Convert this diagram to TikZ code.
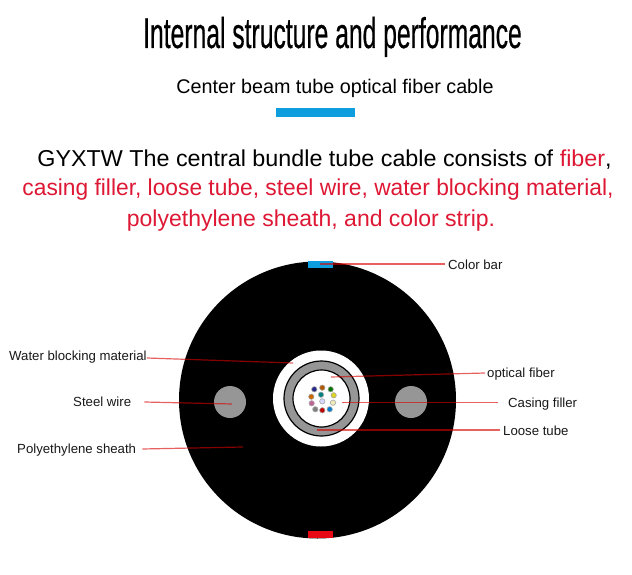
\documentclass[tikz,border=0pt]{standalone}
\usepackage{fontspec}
\setmainfont{Liberation Sans}
\newfontfamily\titlefont[FakeBold=0.6]{Liberation Sans}
\definecolor{hl}{RGB}{222,24,52}
\definecolor{barblue}{RGB}{14,158,222}
\definecolor{barred}{RGB}{232,8,20}
\definecolor{ringgrey}{RGB}{150,150,150}
\begin{document}
\begin{tikzpicture}[x=1pt,y=-1pt,
  lbl/.style={inner sep=0pt,font=\fontsize{13.2}{15}\selectfont,text=black!90},
  lead/.style={draw=red!85!black,opacity=.62,line width=1.2pt},
  head/.style={inner sep=0pt,anchor=base,font=\fontsize{23}{26}\selectfont},
  fib/.style={circle,inner sep=0pt,minimum size=5.4pt,draw=black!35,line width=.6pt}]
\useasboundingbox (0,0) rectangle (632,575);
\fill[white] (0,0) rectangle (632,575);
\node[inner sep=0pt,anchor=base,font=\titlefont\fontsize{43}{50}\selectfont] (title) at (332.5,48) {\scalebox{0.574}[1]{Internal structure and performance}};
\node[inner sep=0pt,anchor=base,font=\fontsize{19.75}{24}\selectfont] (sub) at (335,94) {Center beam tube optical fiber cable};
\fill[barblue] (276,108) rectangle (355,117);
\node[head] (l1) at (324.5,166.5) {\scalebox{1.014}[1]{GYXTW The central bundle tube cable consists of \textcolor{hl}{fiber},}};
\node[head,text=hl] (l2) at (318,195) {\scalebox{0.99}[1]{casing filler, loose tube, steel wire, water blocking material,}};
\node[head,text=hl] (l3) at (311,226) {polyethylene sheath, and color strip.};
% cable
\fill[black] (317.5,400) circle (138.5);
\fill[white] (321,398.5) circle (48);
\filldraw[fill=ringgrey,draw=black,line width=1.2pt] (321.5,398.5) circle (37.5);
\filldraw[fill=white,draw=black,line width=1.2pt] (321.5,398.5) circle (28.5);
\fill[ringgrey] (230,402) circle (16);
\fill[ringgrey] (411,402) circle (16);
\fill[barblue] (308,261) rectangle (333,268);
\fill[barred] (308,531) rectangle (333,537.5);
% fibres
\node[fib,fill=blue!45!black!85] at (314.3,389.3) {};
\node[fib,fill=orange!70!black] at (322.3,387.7) {};
\node[fib,fill=green!45!black] at (330.7,389.3) {};
\node[fib,fill=orange!80!black] at (311.3,396.7) {};
\node[fib,fill=teal] at (321,394.7) {};
\node[fib,fill=yellow!85!black] at (333.7,395.3) {};
\node[fib,fill=magenta!50!gray] at (311.7,403.3) {};
\node[fib,fill=white!85!blue] at (322.3,401.3) {};
\node[fib,fill=black!25!yellow!30!white] at (333,402.7) {};
\node[fib,fill=black!50] at (315.3,409.3) {};
\node[fib,fill=red!75!black] at (322.3,410.3) {};
\node[fib,fill=blue!40!cyan!80!black] at (329.7,409.3) {};
% labels
\node[lbl,anchor=west] (cb) at (448,265) {Color bar};
\node[lbl,anchor=west] (wb) at (9,357.5) {Water blocking material};
\node[lbl,anchor=west] (sw) at (73,402) {Steel wire};
\node[lbl,anchor=west] (ps) at (17,450) {Polyethylene sheath};
\node[lbl,anchor=west] (of) at (487,374) {optical fiber};
\node[lbl,anchor=west] (cf) at (508,404) {Casing filler};
\node[lbl,anchor=west] (lt) at (503,431) {Loose tube};
% connector ends
\coordinate (pcb) at (320,264);
\coordinate (pwb) at (293,363);
\coordinate (psw) at (232,404);
\coordinate (pps) at (243,447);
\coordinate (pof) at (331,377);
\coordinate (pcf) at (342,402.5);
\coordinate (plt) at (317,430);
\draw[lead] (cb.west) ++(-3,-1) -- (pcb);
\draw[lead] (wb.east) ++(0,0.5) -- (pwb);
\draw[lead] (sw.east) ++(13,0) -- (psw);
\draw[lead] (ps.east) ++(6,-1) -- (pps);
\draw[lead] (of.west) ++(-2,-1) -- (pof);
\draw[lead] (cf.west) ++(-10,-1.5) -- (pcf);
\draw[lead] (lt.west) ++(-3,-1) -- (plt);
\end{tikzpicture}
\end{document}
